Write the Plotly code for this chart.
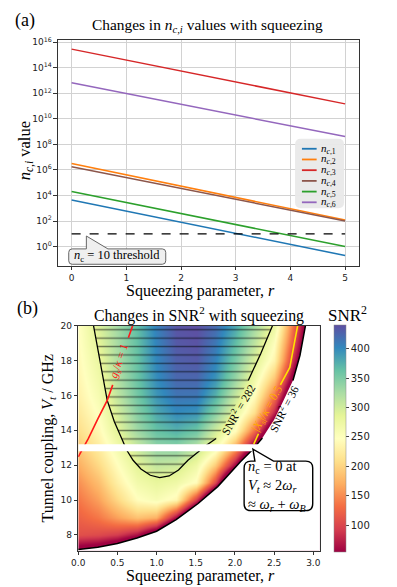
import plotly.graph_objects as go

W, H = 397, 587

# ---------- panel (a): n_c,i against squeezing parameter ----------
r_a = [0, 1, 2, 3, 4, 5]
n_c1 = [4.4e3, 590, 79, 11, 1.5, 0.2]
n_c2 = [3.2e6, 4.2e5, 5.4e4, 7.1e3, 930, 120]
n_c3 = [2.9e15, 4.0e14, 5.6e13, 7.9e12, 1.1e12, 1.5e11]
n_c4 = [1.8e6, 2.5e5, 3.5e4, 5.0e3, 710, 100]
n_c5 = [2.1e4, 2.9e3, 400, 54, 7.4, 1.0]
n_c6 = [6.8e12, 1.0e12, 1.4e11, 2.0e10, 2.8e9, 4.1e8]
thr_r = [0, 5]
thr_n = [10, 10]
series_a = [n_c1, n_c2, n_c3, n_c4, n_c5, n_c6]
labels_a = ["1", "2", "3", "4", "5", "6"]
colors_a = ["#1f77b4", "#ff7f0e", "#d62728", "#8c564b", "#2ca02c", "#9467bd"]
ytick_exp = [0, 2, 4, 6, 8, 10, 12, 14, 16]

# ---------- panel (b): SNR^2 map ----------
r_b = [0.0, 0.25, 0.5, 0.75, 1.0, 1.25, 1.5, 1.75, 2.0, 2.25, 2.5, 2.75, 3.0]
vt_b = [7, 8, 9, 10, 11, 12, 13, 14, 15, 16, 17, 18, 19, 20]
snr2 = [
    [20, 9, -25, -96, -150, -250, -300, -300, -300, -300, -300, -300, -300],
    [108, 103, 92, 63, -4, -134, -300, -300, -300, -300, -300, -300, -300],
    [122, 137, 162, 185, 172, 55, -100, -280, -300, -300, -300, -300, -300],
    [137, 162, 203, 245, 258, 237, 93, -90, -300, -300, -300, -300, -300],
    [152, 182, 228, 266, 280, 270, 242, 100, -125, -300, -300, -300, -300],
    [170, 203, 245, 285, 308, 302, 270, 190, 50, -120, -300, -300, -300],
    [190, 223, 264, 305, 338, 342, 315, 264, 165, 25, -150, -300, -300],
    [208, 238, 285, 330, 362, 374, 358, 300, 245, 130, -20, -200, -300],
    [220, 250, 296, 345, 380, 400, 394, 345, 280, 210, 75, -100, -280],
    [230, 260, 310, 355, 392, 414, 413, 374, 306, 245, 135, -30, -200],
    [236, 268, 318, 360, 398, 423, 424, 394, 336, 272, 190, 36, -110],
    [240, 276, 322, 362, 402, 428, 432, 404, 352, 292, 232, 80, -60],
    [243, 285, 326, 364, 404, 433, 437, 412, 366, 312, 250, 110, -40],
    [245, 292, 328, 365, 406, 436, 440, 421, 381, 328, 276, 130, -20],
]
# SNR^2 = 36 edge of the valid region
bnd_r = [0.0, 0.25, 0.5, 0.75, 1.0, 1.25, 1.53, 1.78, 2.07, 2.22, 2.35, 2.5, 2.62, 2.74, 2.83, 2.90]
bnd_v = [7.17, 7.3, 7.51, 7.82, 8.21, 8.88, 9.8, 10.77, 12.19, 12.87, 13.55, 14.6, 15.7, 16.85, 18.3, 20.0]
# SNR^2 = 282 contour
u_r = [0.195, 0.28, 0.33, 0.37, 0.46, 0.55, 0.62, 0.70, 0.80, 0.92, 1.04, 1.16, 1.28, 1.40,
       1.52, 1.64, 1.76, 1.87, 2.02, 2.17, 2.33, 2.48]
u_v = [20.0, 17.98, 16.8, 15.71, 14.5, 13.53, 12.85, 12.28, 11.78, 11.42, 11.28, 11.38, 11.72, 12.28,
       12.74, 13.15, 13.53, 14.35, 15.55, 16.85, 18.4, 20.0]
# g_s / kappa = 1
red_r = [0.0, 0.13, 0.25, 0.37, 0.44, 0.64, 0.695]
red_v = [12.47, 13.53, 14.65, 15.71, 16.6, 19.3, 20.0]
# |X_s| / kappa = 0.5
yel_r = [2.24, 2.30, 2.58, 2.70, 2.80]
yel_v = [13.2, 13.8, 16.6, 17.6, 20.0]
strip_v = [12.8, 13.2]
cbar_ticks = [100, 150, 200, 250, 300, 350, 400]
spectral = ["#9e0142", "#d53e4f", "#f46d43", "#fdae61", "#fee08b", "#ffffbf",
            "#e6f598", "#abdda4", "#66c2a5", "#3288bd", "#5e4fa2"]

SERIF = "Liberation Serif"
SANS = "DejaVu Sans"


def X(px):
    return px / W


def Y(py):
    return 1 - py / H


def with_gap(xs, ys, inside):
    ox, oy = [xs[0]], [ys[0]]
    for i in range(1, len(xs)):
        if inside(xs[i - 1], ys[i - 1]) and inside(xs[i], ys[i]):
            ox.append(None)
            oy.append(None)
        ox.append(xs[i])
        oy.append(ys[i])
    return ox, oy


def bubble(x0, y0, x1, y1, rad, tip=None, base=None):
    # rounded box (pixel coords) with optional pointer on the top edge
    pts = "M{},{}".format(X(x0 + rad), Y(y0))
    if tip:
        pts += " L{},{} L{},{} L{},{}".format(X(base[0]), Y(y0), X(tip[0]), Y(tip[1]), X(base[1]), Y(y0))
    pts += " L{},{} Q{},{} {},{}".format(X(x1 - rad), Y(y0), X(x1), Y(y0), X(x1), Y(y0 + rad))
    pts += " L{},{} Q{},{} {},{}".format(X(x1), Y(y1 - rad), X(x1), Y(y1), X(x1 - rad), Y(y1))
    pts += " L{},{} Q{},{} {},{}".format(X(x0 + rad), Y(y1), X(x0), Y(y1), X(x0), Y(y1 - rad))
    pts += " L{},{} Q{},{} {},{} Z".format(X(x0), Y(y0 + rad), X(x0), Y(y0), X(x0 + rad), Y(y0))
    return pts


fig = go.Figure()

# panel (a) lines
for vals, lab, col in zip(series_a, labels_a, colors_a):
    fig.add_trace(go.Scatter(x=r_a, y=vals, mode="lines", line=dict(color=col, width=1.5),
                             name=lab, showlegend=False, xaxis="x", yaxis="y"))
fig.add_trace(go.Scatter(x=thr_r, y=thr_n, mode="lines", line=dict(color="black", width=1.4, dash="dash"),
                         showlegend=False, xaxis="x", yaxis="y"))

# panel (b) heat map
fig.add_trace(go.Heatmap(x=r_b, y=vt_b, z=snr2, zsmooth="best", colorscale=spectral, zmin=54, zmax=440,
                         xaxis="x2", yaxis="y2", hoverinfo="skip",
                         colorbar=dict(x=X(334), xanchor="left", y=Y(437.3), yanchor="middle",
                                       len=228.5 / H, thickness=12, xpad=0, ypad=0,
                                       tickvals=cbar_ticks, ticks="outside", ticklen=3,
                                       tickfont=dict(family=SANS, size=10, color="#222"),
                                       outlinewidth=0.5, outlinecolor="#888")))
# hatched region above the 282 contour
fig.add_trace(go.Scatter(x=u_r, y=u_v, mode="none", fill="toself", fillcolor="rgba(0,0,0,0)",
                         fillpattern=dict(shape="-", fgcolor="black", bgcolor="rgba(0,0,0,0)",
                                          size=8.4, solidity=0.17),
                         showlegend=False, xaxis="x2", yaxis="y2", hoverinfo="skip"))
# white outside the valid region
fig.add_trace(go.Scatter(x=bnd_r + [3.3, 3.3, -0.1, -0.1], y=bnd_v + [20.5, 6.5, 6.5, bnd_v[0]],
                         mode="none", fill="toself", fillcolor="white",
                         showlegend=False, xaxis="x2", yaxis="y2", hoverinfo="skip"))
ux, uy = with_gap(u_r, u_v, lambda x, y: x > 1.5 and 13.5 <= y <= 16.9)
fig.add_trace(go.Scatter(x=ux, y=uy, mode="lines", line=dict(color="black", width=1.3),
                         showlegend=False, xaxis="x2", yaxis="y2", hoverinfo="skip"))
bx, by = with_gap(bnd_r, bnd_v, lambda x, y: 13.5 <= y <= 16.9)
fig.add_trace(go.Scatter(x=bx, y=by, mode="lines", line=dict(color="black", width=1.5),
                         showlegend=False, xaxis="x2", yaxis="y2", hoverinfo="skip"))
rx, ry = with_gap(red_r, red_v, lambda x, y: 16.5 <= y <= 19.4)
fig.add_trace(go.Scatter(x=rx, y=ry, mode="lines", line=dict(color="#ff1a1a", width=1.6),
                         showlegend=False, xaxis="x2", yaxis="y2", hoverinfo="skip"))
yx, yy = with_gap(yel_r, yel_v, lambda x, y: 13.7 <= y <= 16.7)
fig.add_trace(go.Scatter(x=yx, y=yy, mode="lines", line=dict(color="#ffe100", width=1.6),
                         showlegend=False, xaxis="x2", yaxis="y2", hoverinfo="skip"))

shapes = [
    # n_c = 0 gap
    dict(type="rect", xref="x2", yref="y2", x0=0, x1=3.08, y0=strip_v[0], y1=strip_v[1],
         fillcolor="white", line=dict(width=0), layer="above"),
    # legend box
    dict(type="path", xref="paper", yref="paper", path=bubble(294, 135, 344, 205, 6),
         fillcolor="rgba(233,233,233,0.95)", line=dict(width=0), layer="above"),
    # threshold label box
    dict(type="path", xref="paper", yref="paper",
         path=bubble(63, 246, 162, 261.5, 3.5, tip=(81, 233), base=(81, 103)),
         fillcolor="#efefef", line=dict(color="#666", width=1), layer="above"),
    # n_c = 0 callout
    dict(type="path", xref="paper", yref="paper",
         path=bubble(242, 460, 312, 510, 7, tip=(251, 448), base=(253, 272)),
         fillcolor="white", line=dict(color="black", width=1.4), layer="above"),
]
# manual legend swatches
leg_y = [145, 155.8, 166.6, 177.4, 188.2, 199]
for yy_, col in zip(leg_y, colors_a):
    shapes.append(dict(type="line", xref="paper", yref="paper", x0=X(301), x1=X(316), y0=Y(yy_), y1=Y(yy_),
                       line=dict(color=col, width=1.8), layer="above"))

ann = []


def text(px, py, s, size, color="black", family=SERIF, angle=0, xanchor="center", align="center"):
    ann.append(dict(x=X(px), y=Y(py), xref="paper", yref="paper", text=s, showarrow=False,
                    font=dict(family=family, size=size, color=color), textangle=angle,
                    xanchor=xanchor, yanchor="middle", align=align))


for yy_, lab in zip(leg_y, labels_a):
    text(318, yy_, "<i>n</i><sub><i>c</i>,{}</sub>".format(lab), 11, xanchor="left")

text(18, 16, "(a)", 18)
text(21, 306, "(b)", 18)
text(205, 21, "Changes in <i>n</i><sub><i>c</i>,<i>i</i></sub> values with squeezing", 15.4)
text(196, 312, "Changes in SNR<sup>2</sup> with squeezing", 15.8)
text(197, 288, "Squeezing parameter, <i>r</i>", 16)
text(197, 576, "Squeezing parameter, <i>r</i>", 16)
text(19, 147, "<i>n</i><sub><i>c</i>,<i>i</i></sub> value", 16.5, angle=-90)
text(42, 437, "Tunnel coupling, <i>V<sub>t</sub></i> / GHz", 16, angle=-90)
text(347, 312, "SNR<sup>2</sup>", 17)
text(112.5, 253.5, "<i>n</i><sub>c</sub> = 10 threshold", 12.5)
text(244, 485, "<i>n</i><sub>c</sub> = 0 at<br><i>V<sub>t</sub></i> ≈ 2<i>ω<sub>r</sub></i><br>≈ <i>ω<sub>r</sub></i> + <i>ω<sub>B</sub></i>",
     14.5, xanchor="left", align="left")

# contour labels in data coordinates
for (cx, cy, s, col, ang) in [
    (0.53, 17.95, "<i>g<sub>s</sub></i>/<i>κ</i> = 1", "#ff1a1a", -71),
    (2.04, 15.2, "SNR<sup>2</sup> = 282", "black", -60),
    (2.42, 15.2, "|<i>X<sub>s</sub></i>|/<i>κ</i> = 0.5", "#ffa800", -61),
    (2.62, 15.2, "SNR<sup>2</sup> = 36", "black", -63),
]:
    ann.append(dict(x=cx, y=cy, xref="x2", yref="y2", text=s, showarrow=False, textangle=ang,
                    font=dict(family=SERIF, size=11.5, color=col)))

axis_common = dict(showline=True, mirror=True, linecolor="#333", linewidth=1, ticks="outside",
                   ticklen=3.5, tickcolor="#333", zeroline=False,
                   tickfont=dict(family=SANS, size=9, color="#222"))

fig.update_layout(
    width=W, height=H, margin=dict(l=0, r=0, t=0, b=0),
    paper_bgcolor="white", plot_bgcolor="white", showlegend=False,
    xaxis=dict(domain=[X(52), X(359)], anchor="y", range=[-0.25, 5.25], dtick=1,
               showgrid=True, gridcolor="#d2d2d2", **axis_common),
    yaxis=dict(domain=[Y(263), Y(35)], anchor="x", type="log", range=[-1.5, 16.2],
               tickvals=[10 ** e for e in ytick_exp],
               ticktext=["10<sup>{}</sup>".format(e) for e in ytick_exp],
               showgrid=True, gridcolor="#d2d2d2", **axis_common),
    xaxis2=dict(domain=[X(72.7), X(319)], anchor="y2", range=[0, 3.08], dtick=0.5, tickformat=".1f",
                showgrid=False, **axis_common),
    yaxis2=dict(domain=[Y(550.5), Y(323.3)], anchor="x2", range=[7.09, 20], dtick=2,
                showgrid=False, **axis_common),
    shapes=shapes, annotations=ann,
)

# drop the browser's default page margin so the figure sits at the window's corner
fig.write_html("out.html", config={"displayModeBar": False},
               post_script="document.body.style.margin='0px';")
